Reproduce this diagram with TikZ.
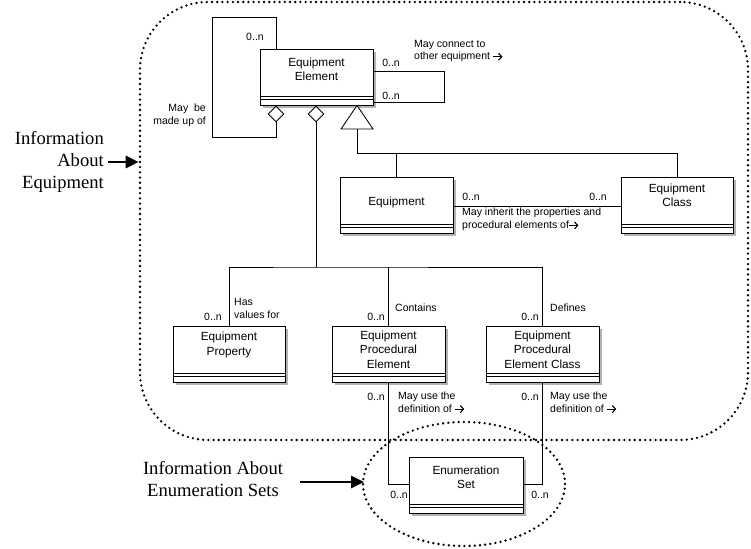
\documentclass[tikz,border=0pt]{standalone}
\usepackage{fontspec}
\setmainfont{Liberation Serif}
\newfontfamily\lsans{Liberation Sans}
\usetikzlibrary{shapes.geometric,arrows.meta,calc}
\newcommand\rarr{\tikz[baseline=-3.2pt]\draw[line width=0.9pt, -{Straight Barb[length=3.2pt,width=7pt,line width=1.1pt]}] (0pt,0pt) -- (9pt,0pt);}
\newcommand\umlbox[6][0]{%
  \fill[boxshadow] (#3+3,#4+3) rectangle (#3+#5+3,#4+59);
  \node[boxname, minimum width=#5pt, anchor=north west] (#2) at (#3,#4) {};
  \node[boxtext] (#2-t) at ($(#2.center)+(0,#1)$) {#6};
  \draw[boxline] (#2.south west) rectangle ++(#5,3);
  \draw[boxline] ($(#2.south west)+(0,3)$) rectangle ++(#5,6);
}
\begin{document}
\begin{tikzpicture}[x=1pt,y=-1pt,
  lbl/.style={font=\lsans\fontsize{10.5}{12.8}\selectfont, inner sep=0pt},
  boxname/.style={draw, fill=white, line width=0.85pt, inner sep=0pt, outer sep=0pt,
     minimum height=47pt},
  boxtext/.style={inner sep=0pt, align=center, font=\lsans\fontsize{11.8}{14.5}\selectfont},
  boxline/.style={line width=0.85pt, fill=white},
  boxshadow/.style={fill=gray!60},
  conn/.style={line width=0.85pt},
  dotline/.style={line width=2.6pt, line cap=round, dash pattern=on 0pt off 5.2pt},
  bigtext/.style={font=\fontsize{18.6}{22}\selectfont, inner sep=0pt},
  bigarrow/.style={line width=2.8pt, -{Triangle[length=13pt,width=12pt]}},
  dia/.style={diamond, draw, fill=white, line width=0.85pt, inner sep=0pt,
     minimum width=16pt, minimum height=16pt}
]
\useasboundingbox (0,0) rectangle (751,548);

% groups
\node[dotline, draw, rounded corners=68pt, minimum width=608pt, minimum height=438pt] (grp1) at (444,221) {};
\node[dotline, draw, ellipse, minimum width=202pt, minimum height=124pt, inner sep=0pt] (grp2) at (464,484) {};

% side texts
\node[bigtext, align=right, anchor=east] (info1) at (104,162) {Information\\About\\Equipment};
\coordinate (a1) at (108,162);
\draw[bigarrow] (a1) -- (grp1.west |- a1);
\node[bigtext, align=center] (info2) at (213,479) {Information About\\Enumeration Sets};
\coordinate (a2) at (300,482);
\draw[bigarrow] (a2) -- (364,482);

% boxes
\umlbox[-3]{EE}{260}{49}{113}{Equipment\\Element}
\umlbox[1.5]{Eq}{340}{177}{113}{Equipment}
\umlbox[-5]{EC}{621}{177}{112}{Equipment\\Class}
\umlbox[-4.5]{EP}{173}{326}{112}{Equipment\\Property}
\umlbox{EPE}{332}{326}{113}{Equipment\\Procedural\\Element}
\umlbox{EPEC}{486}{326}{113}{Equipment\\Procedural\\Element Class}
\umlbox[-3]{ES}{409}{457}{114}{Enumeration\\Set}

% aggregation diamonds
\node[dia] (d1) at (276,114) {};
\node[dia] (d2) at (316,114) {};

% left self loop
\coordinate (l1) at (212,17);
\coordinate (l2) at (212,137);
\draw[conn] (d1 |- EE.north) |- (l1) -- (l2) -| (d1.south);

% right self loop
\coordinate (r1) at (444,71);
\coordinate (r2) at (444,102);
\draw[conn] (EE.east |- r1) -- (r1) -- (r2) -- (EE.east |- r2);

% generalisation triangle
\coordinate (tri) at (357,129);
\draw[conn, fill=white] (357,105.5) -- (373,129) -- (341,129) -- cycle;
\coordinate (h) at (357,153);
\draw[conn] (tri) -- (h) -| (EC.north);
\draw[conn] (Eq.north |- h) -- (Eq.north);

% Equipment - Equipment Class
\coordinate (m) at (537,206);
\draw[conn] (Eq.east |- m) -- (EC.west |- m);

% composition tree
\coordinate (j) at (316,267);
\draw[conn] (d2.south) -- (j);
\draw[conn] (EP.north) |- (j) -| (EPEC.north);
\draw[conn] (EPE.north) -- (EPE.north |- j);

% to enumeration set
\coordinate (b) at (466,484);
\draw[conn] ([yshift=-9pt]EPE.south) |- (ES.west |- b);
\draw[conn] ([yshift=-9pt]EPEC.south) |- (ES.east |- b);

% labels
\node[lbl] (m1) at (255,37) {0..n};
\node[lbl, align=right, anchor=east] (t1) at (206,115.5) {May~~be\\made up of};
\node[lbl] (m2) at (391,63) {0..n};
\node[lbl] (m3) at (391,96) {0..n};
\node[lbl, align=left, anchor=west] (t2) at (414,51) {May connect to\\other equipment \rarr};
\node[lbl] (m4) at (471,197) {0..n};
\node[lbl] (m5) at (598,197) {0..n};
\node[lbl, align=left, anchor=west] (t3) at (462,219.5) {May inherit the properties and\\procedural elements of\rarr};
\node[lbl] (m6) at (213,317) {0..n};
\node[lbl, align=left, anchor=west] (t4) at (234,308.5) {Has\\values for};
\node[lbl] (m7) at (376,317) {0..n};
\node[lbl, anchor=west] (t5) at (395,308) {Contains};
\node[lbl] (m8) at (530,317) {0..n};
\node[lbl, anchor=west] (t6) at (550,308) {Defines};
\node[lbl] (m9) at (376,397) {0..n};
\node[lbl, align=left, anchor=west] (t7) at (398,402.5) {May use the\\definition of \rarr};
\node[lbl] (m10) at (530,397) {0..n};
\node[lbl, align=left, anchor=west] (t8) at (550,402.5) {May use the\\definition of \rarr};
\node[lbl] (m11) at (399,495) {0..n};
\node[lbl] (m12) at (540,495) {0..n};
\end{tikzpicture}
\end{document}
